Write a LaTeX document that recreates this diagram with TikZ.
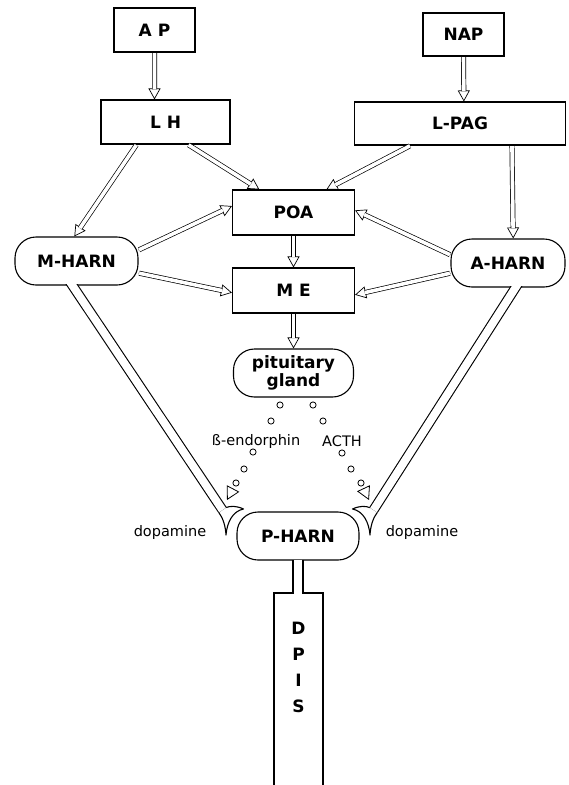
\documentclass[tikz,border=0pt]{standalone}
\usepackage{fontspec}
\setmainfont{DejaVu Sans}
\usepackage{tikz}
\usetikzlibrary{arrows.meta}

\begin{document}
\begin{tikzpicture}[x=1pt,y=-1pt,
    box/.style={draw,line width=1.1pt,inner sep=2pt,font=\bfseries\fontsize{17}{18}\selectfont},
    pill/.style={box,rounded corners=21pt,minimum height=48pt},
    lbl/.style={font=\fontsize{14.5}{16}\selectfont},
    ves/.style={circle,draw,line width=0.8pt,inner sep=0pt,minimum size=6.2pt},
    htip/.style={line width=0.7pt,-{Triangle[open,length=11pt,width=12pt]}},
    hshaft/.style={line width=0.7pt,double,double distance=3.6pt,shorten <=0.6pt,shorten >=10pt},
    axon/.style={line width=1.1pt,double,double distance=7.9pt},
    edge/.style={line width=1.1pt,line cap=rect},
    term/.style={line width=1.1pt,line join=round},
    vtip/.style={line width=0.8pt,shorten <=3pt,-{Triangle[open,length=13pt,width=14pt]}}]
  \useasboundingbox (0,0) rectangle (568,785);
  \node[box, minimum width=81pt, minimum height=44pt] (ap) at (154.5,30) {A P};
  \node[box, minimum width=129pt, minimum height=44pt] (lh) at (165.5,122) {L H};
  \node[box, minimum width=81pt, minimum height=43pt] (nap) at (463.5,34.5) {NAP};
  \node[box, minimum width=211pt, minimum height=43pt] (lpag) at (460,123.5) {L-PAG};
  \node[box, minimum width=122pt, minimum height=45pt] (poa) at (293.5,212.5) {POA};
  \node[box, minimum width=122pt, minimum height=45pt] (me) at (293.5,290.5) {M E};
  \node[pill, minimum width=123pt] (mh) at (76.5,261) {M-HARN};
  \node[pill, minimum width=114pt] (ah) at (508,263) {A-HARN};
  \node[pill, minimum width=120pt, align=center] (pit) at (293.5,373) {pituitary\\gland};
  \node[pill, minimum width=122pt] (ph) at (298,536) {P-HARN};
  \node[box, draw=none, align=center, font=\bfseries\fontsize{17}{26}\selectfont] (dpis) at (298.5,667) {D\\P\\I\\S};
  \foreach \s/\t in {ap.south/lh.116.6, nap.south/lpag.80.8, lh.218.7/mh.95.9,
      lh.315.6/poa.146.1, lpag.204.1/poa.35.5, lpag.337.9/ah.78.2,
      mh.10.1/poa.174.9, mh.349/me.182.8, ah.172/poa.2.4, ah.190/me.356.3,
      poa.south/me.north, me.south/pit.north}
  {
    \draw[htip] (\s) -- (\t);
    \draw[hshaft] (\s) -- (\t);
  }
  \coordinate (lt) at (222.5,510);
  \coordinate (rt) at (373.5,510);
  \begin{scope}
    \clip (0,284.2) rectangle (568,785);
    \draw[axon] ([shift={(-10.7,-10)}]mh.south) -- (lt);
  \end{scope}
  \begin{scope}
    \clip (0,286.2) rectangle (568,785);
    \draw[axon] ([shift={(13.9,-10)}]ah.south) -- (rt);
  \end{scope}
  \draw[term] (218.8,512.5) .. controls (223,518) and (225.5,526) .. (226,535)
    .. controls (227,522) and (233,511) .. (243.5,509)
    .. controls (236,505.5) and (230,506) .. (226.2,507.5);
  \draw[term] (377.3,512.4) .. controls (373,518) and (370.5,526) .. (370,535)
    .. controls (369,522) and (363,511) .. (352.5,509)
    .. controls (360,505.5) and (366,506) .. (369.7,507.6);
  \coordinate (dtop) at (298,593);
  \draw[axon, double distance=8.9pt] ([yshift=0.7pt]ph.south) -- (dtop);
  \draw[edge] (293,593) -- (274,593) -- (274,790);
  \draw[edge] (303,593) -- (323,593) -- (323,790);
  \foreach \x/\y [count=\i] in {280/405,271/421,253/452,244/469,236/483}
    \node[ves] (lv\i) at (\x,\y) {};
  \foreach \x/\y [count=\i] in {313/405,323/421,342/453,351/469,361/483}
    \node[ves] (rv\i) at (\x,\y) {};
  \coordinate (ltip) at (227,500);
  \coordinate (rtip) at (369,500);
  \draw[vtip] (lv5) -- (ltip);
  \draw[vtip] (rv5) -- (rtip);
  \node[lbl] (beta) at (256,441) {ß-endorphin};
  \node[lbl] (acth) at (342,441) {ACTH};
  \node[lbl] (dal) at (170,532) {dopamine};
  \node[lbl] (dar) at (422,532) {dopamine};
\end{tikzpicture}
\end{document}
